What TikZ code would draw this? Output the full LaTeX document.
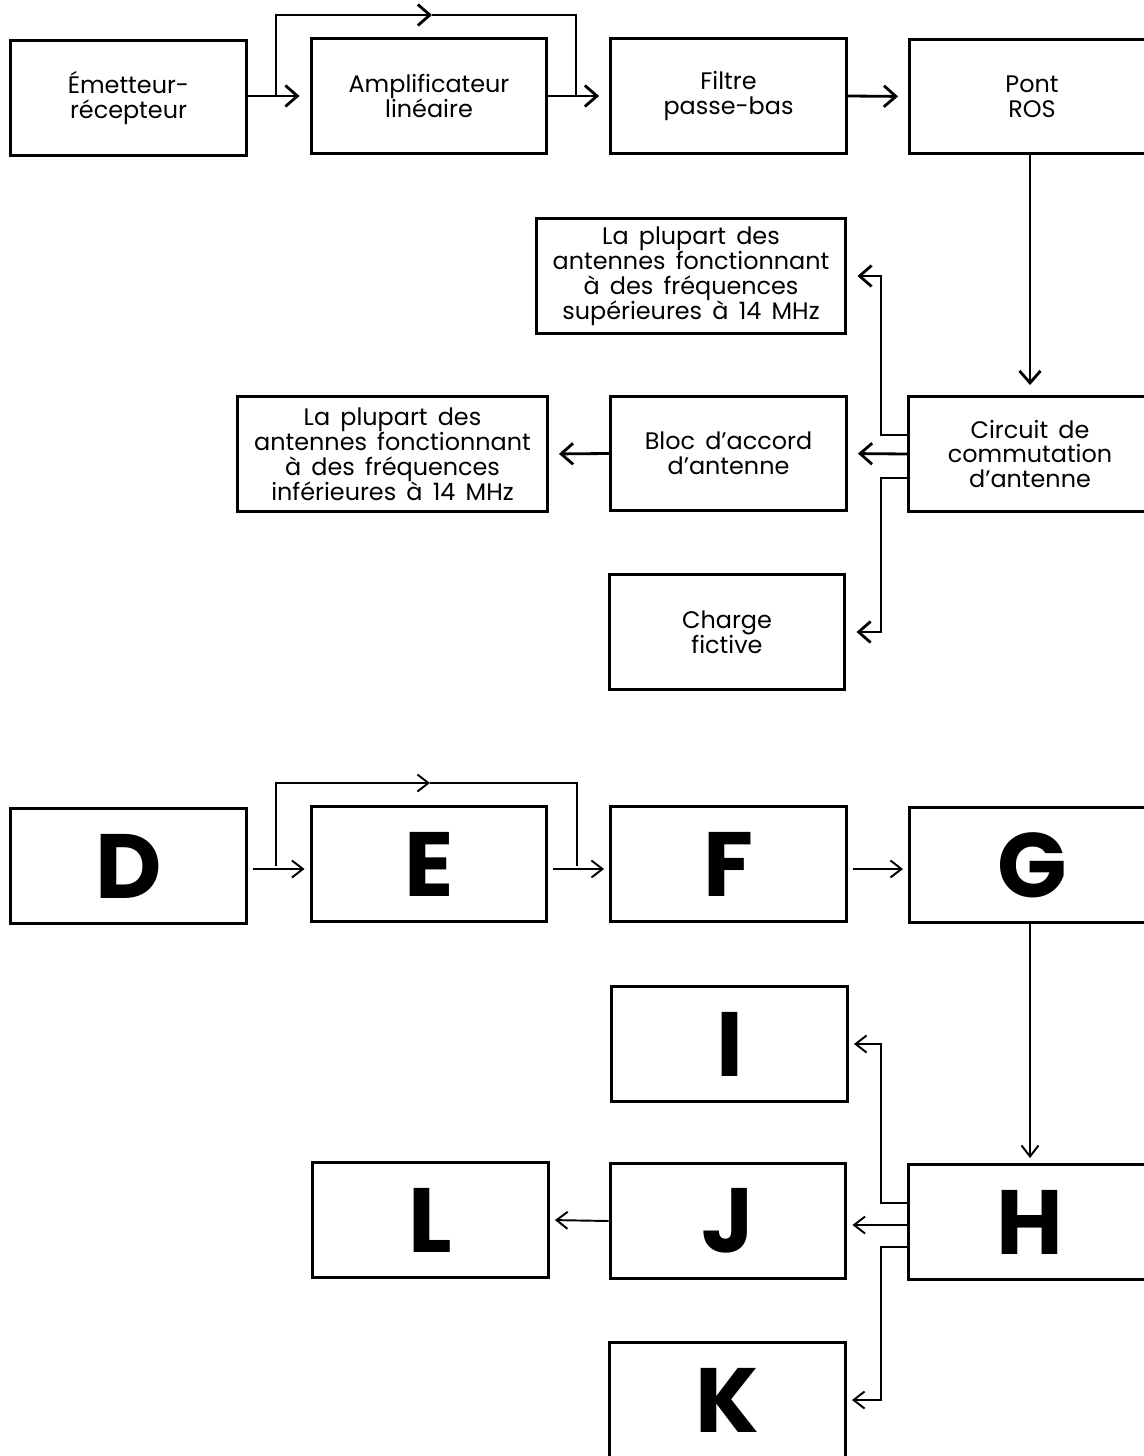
\documentclass[tikz,border=0pt]{standalone}
\usepackage{fontspec}
\setmainfont{Poppins}[WordSpace=1.6]
\usetikzlibrary{arrows.meta,calc}

\newcommand\textebloc{\fontsize{13.6}{14.2}\selectfont\lineskiplimit=-20pt\relax}

\tikzset{
  bloc/.style={draw, line width=1.7pt, minimum width=4.72cm, minimum height=2.3cm,
    inner sep=0pt, align=center, font=\textebloc},
  bloclarge/.style={bloc, minimum width=6.2cm},
  lettre/.style={bloc, font=\fontsize{52}{52}\selectfont\bfseries},
  fleche/.style={-{Straight Barb[length=0.24cm,width=0.42cm]}, line width=1.6pt,
    shorten >=0.2cm},
  flechefine/.style={-{Straight Barb[length=0.22cm,width=0.34cm]}, line width=1.1pt,
    shorten >=0.1cm, shorten <=0.1cm},
}

\begin{document}
\begin{tikzpicture}[x=0.02cm, y=-0.02cm]
    \useasboundingbox (0,0) rectangle (1143,1456);

    % Chaine du haut
    \node[bloc] (emet) at (128.5,98) {Émetteur-\\récepteur};
    \node[bloc] (ampli) at (429,96) {Amplificateur\\linéaire};
    \node[bloc] (filtre) at (728.5,96) {Filtre\\passe-bas};
    \node[bloc, minimum width=4.9cm] (pont) at (1032,96.5) {Pont\\ROS};
    \node[bloclarge] (sup) at (691,276)
        {La plupart des\\antennes fonctionnant\\à des fréquences\\supérieures à 14 MHz};
    \node[bloc, minimum width=4.86cm] (circ) at (1030,454) {Circuit de\\commutation\\d’antenne};
    \node[bloc] (accord) at (728.5,453.5) {Bloc d’accord\\d’antenne};
    \node[bloclarge] (inf) at (392.5,454)
        {La plupart des\\antennes fonctionnant\\à des fréquences\\inférieures à 14 MHz};
    \node[bloc] (charge) at (727,632) {Charge\\fictive};

    % Liaisons du haut
    \draw[fleche] (emet.east |- ampli.west) -- (ampli.west);
    \draw[fleche] (ampli.east) -- (filtre.west);
    \draw[fleche] (filtre.east) -- (pont.west);
    \draw[fleche] (pont.south -| circ.north) -- (circ.north);
    % Derivation de l'amplificateur
    \coordinate (derA) at (276,96);
    \coordinate (milA) at (432,15);
    \coordinate (finA) at (576,96);
    \draw[fleche, shorten >=0pt] (derA) |- (milA);
    \draw[line width=1.6pt] (milA) -| (finA);
    % Sorties du commutateur
    \draw[fleche] ($(circ.west)+(0,-19)$) -- (881,435) |- (sup.east);
    \draw[fleche] (circ.west) -- (accord.east);
    \draw[fleche] ($(circ.west)+(0,24)$) -- (881,478) |- (charge.east);
    \draw[fleche] (accord.west) -- (inf.east);

    % Chaine du bas
    \node[lettre] (D) at (128.5,866) {D};
    \node[lettre] (E) at (429,864) {E};
    \node[lettre] (F) at (728.5,864) {F};
    \node[lettre, minimum width=4.9cm] (G) at (1032,865) {G};
    \node[lettre] (I) at (729.5,1044) {I};
    \node[lettre, minimum width=4.86cm] (H) at (1030,1222) {H};
    \node[lettre] (J) at (728,1221) {J};
    \node[lettre] (L) at (430.5,1220) {L};
    \node[lettre] (K) at (727.5,1400) {K};

    % Liaisons du bas
    \draw[flechefine] ($(D.east)+(0,3)$) -- ($(E.west)+(0,5)$);
    \draw[flechefine] ($(E.east)+(0,5)$) -- ($(F.west)+(0,5)$);
    \draw[flechefine] ($(F.east)+(0,5)$) -- ($(G.west)+(0,4)$);
    \draw[flechefine, shorten <=0pt] (G.south -| H.north) -- (H.north);
    % Derivation de E
    \coordinate (derE) at (276,866);
    \coordinate (milE) at (430,783);
    \coordinate (finE) at (577,866);
    \draw[flechefine, shorten >=0pt, shorten <=0pt] (derE) |- (milE);
    \draw[line width=1.1pt] (milE) -| (finE);
    % Sorties de H
    \draw[flechefine, shorten <=0pt] ($(H.west)+(0,-19)$) -- (881,1203) |- (I.east);
    \draw[flechefine, shorten <=0pt] ($(H.west)+(0,3)$) -- ($(J.east)+(0,4)$);
    \draw[flechefine, shorten <=0pt] ($(H.west)+(0,25)$) -- (881,1247) |- (K.east);
    \draw[flechefine, shorten <=0pt] (J.west) -- (L.east);
\end{tikzpicture}
\end{document}
